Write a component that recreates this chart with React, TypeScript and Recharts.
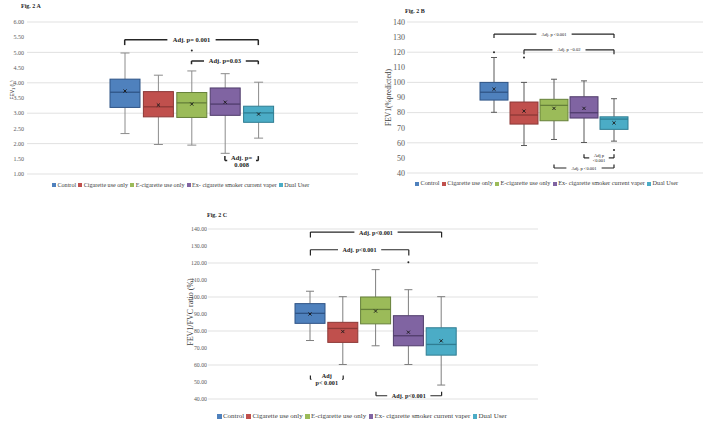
import React from 'react';
import { ComposedChart, Bar, XAxis, YAxis, CartesianGrid, ReferenceLine } from 'recharts';

const groups = ['Control', 'Cigarette use only', 'E-cigarette use only', 'Ex- cigarette smoker current vaper', 'Dual User'];
const fills = ['#4f81bd', '#c0504d', '#9bbb59', '#8064a2', '#4bacc6'];
const edges = ['#2f5486', '#8c3836', '#66803a', '#4f3c6b', '#2f7d92'];

// Fig. 2 A – FEV1 (L)
const fevMin = [2.33, 1.97, 1.95, 1.68, 2.18];
const fevQ1 = [3.19, 2.88, 2.86, 2.93, 2.7];
const fevMedian = [3.69, 3.21, 3.34, 3.3, 3.01];
const fevQ3 = [4.12, 3.71, 3.68, 3.83, 3.23];
const fevMax = [4.98, 4.25, 4.39, 4.3, 4.02];
const fevMean = [3.73, 3.27, 3.3, 3.36, 2.97];
const fevOutliers = [[], [], [5.06], [], []];
const fevTicks = [1, 1.5, 2, 2.5, 3, 3.5, 4, 4.5, 5, 5.5, 6];

// Fig. 2 B – FEV1 % predicted
const pctMin = [80.2, 58.2, 62.2, 60.2, 61.1];
const pctQ1 = [88.3, 72.4, 74.6, 76.4, 68.9];
const pctMedian = [93.5, 78.4, 84.8, 79.9, 75.7];
const pctQ3 = [100, 87, 88.8, 90.5, 77.2];
const pctMax = [116.5, 100, 102.1, 101, 89.2];
const pctMean = [95.5, 81, 82.8, 82.8, 73.2];
const pctOutliers = [[120], [116.5], [], [], [55.3]];
const pctTicks = [40, 50, 60, 70, 80, 90, 100, 110, 120, 130, 140];

// Fig. 2 C – FEV1/FVC ratio (%)
const ratioMin = [74.4, 60.3, 71.3, 60.3, 48.2];
const ratioQ1 = [84.5, 73.3, 84.2, 71.3, 65.8];
const ratioMedian = [90.4, 81.5, 92.7, 77.2, 72.1];
const ratioQ3 = [96.1, 85.1, 100, 89, 81.9];
const ratioMax = [103.4, 100.2, 116.1, 104.3, 100.2];
const ratioMean = [90, 79.7, 91.7, 79.3, 74.2];
const ratioOutliers = [[], [], [], [120.5], []];
const ratioTicks = [40, 50, 60, 70, 80, 90, 100, 110, 120, 130, 140];

// pairwise comparison brackets: group indices, bracket level, tip of the end ticks
const fevNotes = [
  { from: 0, to: 4, y: 5.42, tip: 5.24, lines: ['Adj. p= 0.001'] },
  { from: 2, to: 4, y: 4.72, tip: 4.61, lines: ['Adj. p=0.03'] },
  { from: 3, to: 4, y: 1.44, tip: 1.59, lines: ['Adj. p=', '0.008'] },
];
const pctNotes = [
  { from: 0, to: 4, y: 132, tip: 129.4, lines: ['Adj. p <0.001'] },
  { from: 1, to: 4, y: 121.6, tip: 118.7, lines: ['Adj. p =0.02'] },
  { from: 3, to: 4, y: 50, tip: 52.4, lines: ['Adj p', '<0.001'] },
  { from: 2, to: 4, y: 43.3, tip: 45.6, lines: ['Adj. p <0.001'] },
];
const ratioNotes = [
  { from: 0, to: 4, y: 138.2, tip: 135, lines: ['Adj. p<0.001'] },
  { from: 0, to: 3, y: 127.8, tip: 124.4, lines: ['Adj. p<0.001'] },
  { from: 0, to: 1, y: 51.6, tip: 53.8, lines: ['Adj', 'p< 0.001'] },
  { from: 2, to: 4, y: 41.9, tip: 44.3, lines: ['Adj. p<0.001'] },
];

const SERIF = '"Liberation Serif", "Times New Roman", serif';

type Note = { from: number; to: number; y: number; tip: number; lines: string[] };

function buildRows(min: number[], q1: number[], median: number[], q3: number[], max: number[], mean: number[], outliers: number[][]) {
  return groups.map((name, i) => ({
    name,
    range: [min[i], max[i]],
    min: min[i],
    q1: q1[i],
    median: median[i],
    q3: q3[i],
    max: max[i],
    mean: mean[i],
    outliers: outliers[i],
  }));
}

const fevRows = buildRows(fevMin, fevQ1, fevMedian, fevQ3, fevMax, fevMean, fevOutliers);
const pctRows = buildRows(pctMin, pctQ1, pctMedian, pctQ3, pctMax, pctMean, pctOutliers);
const ratioRows = buildRows(ratioMin, ratioQ1, ratioMedian, ratioQ3, ratioMax, ratioMean, ratioOutliers);

// The bar spans min..max; inner levels are placed on the same linear scale.
function BoxShape(props: any) {
  const { x, y, width, height, payload, index, capWidth, whisker } = props;
  if (!payload || x == null) return null;
  const top = Math.min(y, y + height);
  const bottom = Math.max(y, y + height);
  const span = payload.max - payload.min || 1;
  const toY = (v: number) => bottom - ((v - payload.min) / span) * (bottom - top);
  const cx = x + width / 2;
  const yQ1 = toY(payload.q1);
  const yQ3 = toY(payload.q3);
  const yMed = toY(payload.median);
  const yMean = toY(payload.mean);
  const m = 1.6;
  return (
    <g>
      <line x1={cx} x2={cx} y1={top} y2={yQ3} stroke={whisker} strokeWidth={1} />
      <line x1={cx} x2={cx} y1={yQ1} y2={bottom} stroke={whisker} strokeWidth={1} />
      <line x1={cx - capWidth / 2} x2={cx + capWidth / 2} y1={top} y2={top} stroke={whisker} strokeWidth={1} />
      <line x1={cx - capWidth / 2} x2={cx + capWidth / 2} y1={bottom} y2={bottom} stroke={whisker} strokeWidth={1} />
      <rect x={x} y={yQ3} width={width} height={yQ1 - yQ3} fill={fills[index]} stroke={edges[index]} strokeWidth={1} />
      <line x1={x} x2={x + width} y1={yMed} y2={yMed} stroke={edges[index]} strokeWidth={1.3} />
      <line x1={cx - m} x2={cx + m} y1={yMean - m} y2={yMean + m} stroke="#1a1a1a" strokeWidth={0.9} />
      <line x1={cx - m} x2={cx + m} y1={yMean + m} y2={yMean - m} stroke="#1a1a1a" strokeWidth={0.9} />
      {payload.outliers.map((v: number, k: number) => (
        <circle key={k} cx={cx} cy={toY(v)} r={1} fill="#262626" />
      ))}
    </g>
  );
}

function NoteLabel(props: any) {
  const { viewBox, lines, fontSize, bold } = props;
  if (!viewBox) return null;
  const cx = viewBox.x + viewBox.width / 2;
  const cy = viewBox.y + viewBox.height / 2;
  const widest = Math.max(...lines.map((l: string) => l.length)) * fontSize * 0.5 + 6;
  const lineH = fontSize * 1.1;
  const start = cy - (lines.length * lineH) / 2;
  return (
    <g>
      <rect x={cx - widest / 2} y={cy - 2} width={widest} height={4} fill="#fff" />
      {lines.map((l: string, k: number) => (
        <text
          key={k}
          x={cx}
          y={start + lineH * (k + 0.5)}
          textAnchor="middle"
          dominantBaseline="central"
          fontFamily={SERIF}
          fontSize={fontSize}
          fontWeight={bold ? 700 : 400}
          fill="#1a1a1a"
        >
          {l}
        </text>
      ))}
    </g>
  );
}

function AxisTitle(props: any) {
  const { viewBox, dx, dy, fontSize, family, children } = props;
  if (!viewBox) return null;
  const x = viewBox.x + dx;
  const y = viewBox.y + viewBox.height / 2 + dy;
  return (
    <text x={x} y={y} transform={`rotate(-90 ${x} ${y})`} textAnchor="middle" dominantBaseline="central" fontFamily={family} fontSize={fontSize} fill="#404040">
      {children}
    </text>
  );
}

function LegendRow({ left, top, fontSize, box }: { left: number; top: number; fontSize: number; box: number }) {
  return (
    <div style={{ position: 'absolute', left, top, whiteSpace: 'nowrap', fontFamily: SERIF, fontSize, color: '#404040', lineHeight: 1 }}>
      {groups.map((g, i) => (
        <span key={g} style={{ marginRight: fontSize * 0.35 }}>
          <span style={{ display: 'inline-block', width: box, height: box, background: fills[i], marginRight: 1.5, verticalAlign: 'middle' }} />
          <span style={{ verticalAlign: 'middle' }}>{g}</span>
        </span>
      ))}
    </div>
  );
}

type PanelProps = {
  rows: any[];
  ticks: number[];
  digits: number;
  width: number;
  height: number;
  margin: { top: number; right: number; bottom: number; left: number };
  axisWidth: number;
  pad: { left: number; right: number };
  barSize: number;
  capWidth: number;
  whisker: string;
  tickFont: number;
  tickMargin: number;
  notes: Note[];
  noteFont: number;
  noteBold: boolean;
  noteStroke: number;
  axisLabel: React.ReactNode;
};

function BoxPanel(p: PanelProps) {
  const lo = p.ticks[0];
  const hi = p.ticks[p.ticks.length - 1];
  return (
    <ComposedChart width={p.width} height={p.height} data={p.rows} margin={p.margin}>
      <CartesianGrid vertical={false} stroke="#d9d9d9" strokeWidth={0.8} />
      <XAxis dataKey="name" hide padding={p.pad} />
      <YAxis
        type="number"
        domain={[lo, hi]}
        ticks={p.ticks}
        width={p.axisWidth}
        axisLine={false}
        tickLine={false}
        tickSize={0}
        tickMargin={p.tickMargin}
        tickFormatter={(v: number) => v.toFixed(p.digits)}
        tick={{ fontFamily: SERIF, fontSize: p.tickFont, fill: '#595959' }}
        label={p.axisLabel as any}
      />
      <Bar
        dataKey="range"
        barSize={p.barSize}
        isAnimationActive={false}
        shape={(s: any) => <BoxShape {...s} capWidth={p.capWidth} whisker={p.whisker} />}
      />
      {p.notes.flatMap((n, k) => [
        <ReferenceLine
          key={`h${k}`}
          segment={[{ x: groups[n.from], y: n.y }, { x: groups[n.to], y: n.y }]}
          stroke="#262626"
          strokeWidth={p.noteStroke}
          label={<NoteLabel lines={n.lines} fontSize={p.noteFont} bold={p.noteBold} />}
        />,
        <ReferenceLine
          key={`l${k}`}
          segment={[{ x: groups[n.from], y: n.y }, { x: groups[n.from], y: n.tip }]}
          stroke="#262626"
          strokeWidth={p.noteStroke}
        />,
        <ReferenceLine
          key={`r${k}`}
          segment={[{ x: groups[n.to], y: n.y }, { x: groups[n.to], y: n.tip }]}
          stroke="#262626"
          strokeWidth={p.noteStroke}
        />,
      ])}
    </ComposedChart>
  );
}

const figTitle: React.CSSProperties = { position: 'absolute', fontFamily: SERIF, fontSize: 6, fontWeight: 700, color: '#262626', lineHeight: 1 };

export default function App() {
  return (
    <div style={{ position: 'fixed', left: 0, top: 0, width: 708, height: 425, background: '#fff', overflow: 'hidden' }}>
      <div style={{ position: 'absolute', left: 0, top: 0 }}>
        <BoxPanel
          rows={fevRows}
          ticks={fevTicks}
          digits={2}
          width={360}
          height={195}
          margin={{ top: 22, right: 2, bottom: 21, left: 0 }}
          axisWidth={27}
          pad={{ left: 81, right: 83 }}
          barSize={30}
          capWidth={9}
          whisker="#8c8c8c"
          tickFont={6}
          tickMargin={3}
          notes={fevNotes}
          noteFont={6.5}
          noteBold
          noteStroke={1.5}
          axisLabel={
            <AxisTitle dx={12} dy={-8} fontSize={5} family='"Liberation Sans", Arial, sans-serif'>
              FEV<tspan baselineShift="sub" fontSize={3.5}>1</tspan> (L)
            </AxisTitle>
          }
        />
      </div>
      <div style={{ position: 'absolute', left: 360, top: 0 }}>
        <BoxPanel
          rows={pctRows}
          ticks={pctTicks}
          digits={0}
          width={348}
          height={195}
          margin={{ top: 22, right: 5, bottom: 22, left: 0 }}
          axisWidth={47}
          pad={{ left: 72, right: 74 }}
          barSize={28}
          capWidth={6}
          whisker="#595959"
          tickFont={8}
          tickMargin={2}
          notes={pctNotes}
          noteFont={4.5}
          noteBold={false}
          noteStroke={1.2}
          axisLabel={<AxisTitle dx={28} dy={0} fontSize={7.5} family={SERIF}>FEV1(%predicted)</AxisTitle>}
        />
      </div>
      <div style={{ position: 'absolute', left: 160, top: 200 }}>
        <BoxPanel
          rows={ratioRows}
          ticks={ratioTicks}
          digits={2}
          width={390}
          height={225}
          margin={{ top: 29, right: 12, bottom: 26, left: 0 }}
          axisWidth={48}
          pad={{ left: 86, right: 80 }}
          barSize={30}
          capWidth={8}
          whisker="#7f7f7f"
          tickFont={5.8}
          tickMargin={1}
          notes={ratioNotes}
          noteFont={6.2}
          noteBold
          noteStroke={1.2}
          axisLabel={<AxisTitle dx={30} dy={-2} fontSize={8} family={SERIF}>FEV1/FVC ratio (%)</AxisTitle>}
        />
      </div>
      <div style={{ ...figTitle, left: 21, top: 3 }}>Fig. 2 A</div>
      <div style={{ ...figTitle, left: 405, top: 8 }}>Fig. 2 B</div>
      <div style={{ ...figTitle, left: 207, top: 212 }}>Fig. 2 C</div>
      <LegendRow left={52} top={181} fontSize={6.1} box={4} />
      <LegendRow left={415} top={180} fontSize={6.25} box={4} />
      <LegendRow left={217} top={413} fontSize={6.9} box={4.5} />
    </div>
  );
}
